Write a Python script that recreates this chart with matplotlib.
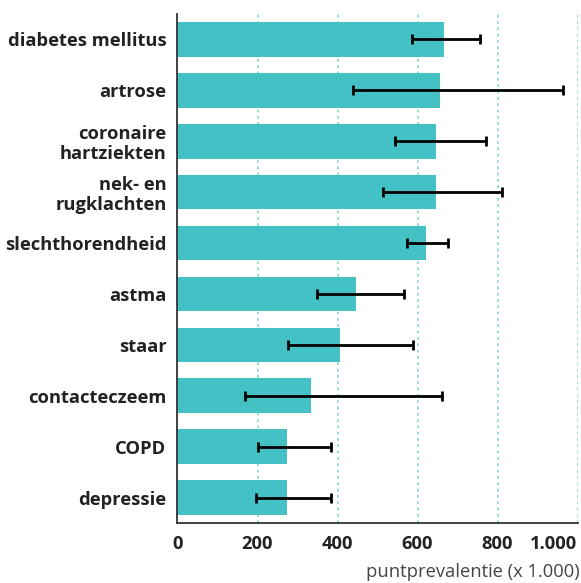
import numpy as np
import matplotlib.pyplot as plt

labels = ['diabetes mellitus', 'artrose', 'coronaire\nhartziekten', 'nek- en\nrugklachten',
          'slechthorendheid', 'astma', 'staar', 'contacteczeem', 'COPD', 'depressie']
values = [665, 655, 645, 645, 622, 445, 405, 333, 273, 273]
lower = [587, 439, 544, 514, 573, 348, 275, 168, 202, 197]
upper = [756, 963, 771, 810, 677, 566, 589, 662, 383, 383]
ticks = [0, 200, 400, 600, 800, 1000]
tick_labels = ['0', '200', '400', '600', '800', '1.000']

plt.rcParams['font.family'] = ['Open Sans', 'DejaVu Sans']

fig = plt.figure(figsize=(5.81, 5.83), dpi=100)
ax = fig.add_axes([0.3055, 0.103, 0.69, 0.873])

y = np.arange(len(labels))
vals = np.array(values)
xerr = np.array([vals - np.array(lower), np.array(upper) - vals])

ax.barh(y, vals, height=0.68, color='#43c1c4', zorder=2)
ax.errorbar(vals, y, xerr=xerr, fmt='none', ecolor='black', elinewidth=2,
            capsize=3.3, capthick=2, zorder=3)

for t in ticks[1:]:
    ax.axvline(t, color='#8fd6d2', linestyle=(0, (1.5, 2)), linewidth=1.3, zorder=1)

ax.set_ylim(len(labels) - 0.5, -0.5)
ax.set_xlim(0, 1002)
ax.set_yticks(y)
ax.set_yticklabels(labels, fontsize=13.2, fontweight='bold', color='#222222', linespacing=1.1)
ax.set_xticks(ticks)
ax.set_xticklabels(tick_labels, fontsize=13.2, fontweight='bold', color='#222222')
ax.get_xticklabels()[-1].set_horizontalalignment('right')
ax.tick_params(axis='y', length=0, pad=8)
ax.tick_params(axis='x', length=0, pad=9)

for s in ['top', 'right']:
    ax.spines[s].set_visible(False)
ax.spines['left'].set_color('#333333')
ax.spines['bottom'].set_color('#333333')
ax.spines['left'].set_linewidth(1.3)
ax.spines['bottom'].set_linewidth(1.3)

fig.text(0.998, 0.004, 'puntprevalentie (x 1.000)', ha='right', va='bottom',
         fontsize=13.2, color='#444444')

fig.savefig('out.png', dpi=100)
